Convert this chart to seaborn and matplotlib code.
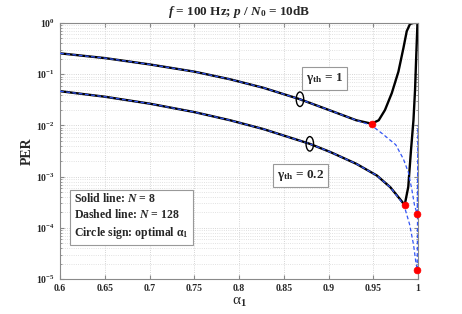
import numpy as np
import matplotlib
matplotlib.use("Agg")
import matplotlib.pyplot as plt
import seaborn as sns
from matplotlib.patches import Ellipse
from matplotlib.transforms import ScaledTranslation

# Data
# gamma_th = 1, N = 8 (solid)
alpha_g1_n8 = [0.6, 0.65, 0.7, 0.75, 0.79, 0.827, 0.868, 0.902, 0.931, 0.948,
               0.956, 0.963, 0.9706, 0.978, 0.9836, 0.9873, 0.991, 0.995, 1.0]
per_g1_n8 = [0.255, 0.206, 0.155, 0.112, 0.0794, 0.0543, 0.0324, 0.0195, 0.0126, 0.0108,
             0.0126, 0.020, 0.0427, 0.112, 0.324, 0.69, 0.955, 1.0, 1.0]

# gamma_th = 1, N = 128 (dashed)
alpha_g1_n128 = [0.6, 0.65, 0.7, 0.75, 0.79, 0.827, 0.868, 0.902, 0.931, 0.948,
                 0.96, 0.975, 0.9836, 0.9892, 0.993, 0.996, 0.999, 1.0]
per_g1_n128 = [0.255, 0.206, 0.155, 0.112, 0.0794, 0.0543, 0.0324, 0.0195, 0.0126, 0.0100,
               0.0069, 0.0042, 0.0022, 0.0012, 5.6e-4, 2.75e-4, 1.86e-4, 0.01]

# gamma_th = 0.2, N = 8 (solid)
alpha_g02_n8 = [0.6, 0.65, 0.7, 0.75, 0.79, 0.827, 0.879, 0.902, 0.931, 0.954,
                0.969, 0.98, 0.985, 0.989, 0.992, 0.9948, 0.9966, 0.998, 0.9993]
per_g02_n8 = [0.0465, 0.0363, 0.0266, 0.0182, 0.0126, 0.0085, 0.00437, 0.00302, 0.00178, 0.00105,
              6.2e-4, 3.6e-4, 2.8e-4, 6.3e-4, 3.2e-3, 0.0126, 0.05, 0.25, 1.0]

# gamma_th = 0.2, N = 128 (dashed)
alpha_g02_n128 = [0.6, 0.65, 0.7, 0.75, 0.79, 0.827, 0.879, 0.902, 0.931, 0.954,
                  0.969, 0.98, 0.985, 0.9905, 0.9948, 0.9974, 0.999, 1.0]
per_g02_n128 = [0.0465, 0.0363, 0.0266, 0.0182, 0.0126, 0.0085, 0.00437, 0.00302, 0.00178, 0.00105,
                6.2e-4, 3.5e-4, 2.5e-4, 1.17e-4, 4.8e-5, 2.2e-5, 1.5e-5, 0.01]

# optimal alpha_1 (circle signs)
alpha_opt = [0.948, 0.985, 0.999, 0.999]
per_opt = [0.0108, 2.8e-4, 1.86e-4, 1.5e-5]

xticks = [0.6, 0.65, 0.7, 0.75, 0.8, 0.85, 0.9, 0.95, 1.0]
xtick_labels = ["0.6", "0.65", "0.7", "0.75", "0.8", "0.85", "0.9", "0.95", "1"]

# Style
sns.set_style("ticks")
plt.rcParams["font.family"] = ["Liberation Serif", "DejaVu Serif"]
plt.rcParams["font.weight"] = "bold"
plt.rcParams["mathtext.fontset"] = "custom"
plt.rcParams["mathtext.rm"] = "Liberation Serif:bold"
plt.rcParams["mathtext.it"] = "Liberation Serif:italic:bold"
plt.rcParams["mathtext.bf"] = "Liberation Serif:bold"
plt.rcParams["xtick.direction"] = "in"
plt.rcParams["ytick.direction"] = "in"

fig = plt.figure(figsize=(4.62, 3.14), dpi=100)
ax = fig.add_axes([0.13, 0.111, 0.775, 0.816])

black_kw = dict(color="black", linewidth=1.7, sort=False, estimator=None, ax=ax, zorder=2)
blue_kw = dict(color="#3355f5", linewidth=0.9, sort=False, estimator=None, ax=ax,
               linestyle=(0, (3, 2)), zorder=3)

sns.lineplot(x=alpha_g1_n8, y=per_g1_n8, **black_kw)
sns.lineplot(x=alpha_g02_n8, y=per_g02_n8, **black_kw)
sns.lineplot(x=alpha_g1_n128, y=per_g1_n128, **blue_kw)
sns.lineplot(x=alpha_g02_n128, y=per_g02_n128, **blue_kw)
sns.scatterplot(x=alpha_opt, y=per_opt, color="red", s=24, edgecolor="red",
                linewidth=0.5, ax=ax, zorder=5, clip_on=False)

ax.set_yscale("log")
ax.set_xlim(0.6, 1.0)
ax.set_ylim(1e-5, 1)
ax.set_xticks(xticks)
ax.set_xticklabels(xtick_labels)
ax.tick_params(axis="both", which="both", labelsize=7, top=True, right=True,
               color="#888888", length=3)
ax.tick_params(axis="y", which="minor", length=1.5)
ax.grid(True, which="major", linestyle=":", color="#c8c8c8", linewidth=0.6)
ax.grid(True, which="minor", axis="y", linestyle=":", color="#d8d8d8", linewidth=0.6)
for s in ax.spines.values():
    s.set_color("#8a8a8a")
    s.set_linewidth(0.8)

ax.set_title("$f$ = 100 Hz; $p$ / $N_0$ = 10dB", fontsize=9.5, fontweight="bold", pad=6)
ax.set_xlabel("α$_1$", fontsize=11, fontweight="normal", labelpad=2)
ax.set_ylabel("PER", fontsize=10, fontweight="bold", labelpad=2)

# ellipses marking the curves
for cx, cy in [(0.868, 0.0324), (0.879, 0.00437)]:
    e = Ellipse((0, 0), width=0.075, height=0.145, fill=False, edgecolor="black", linewidth=1.0,
                transform=fig.dpi_scale_trans + ScaledTranslation(cx, cy, ax.transData), zorder=6)
    ax.add_patch(e)

box = dict(boxstyle="square,pad=0.3", facecolor="white", edgecolor="#999999", linewidth=0.8)
ax.text(0.895, 0.083, "γ$_{\\mathbf{th}}$ = 1", fontsize=9.5, ha="center", va="center", bbox=box, zorder=7)
ax.text(0.869, 0.00105, "γ$_{\\mathbf{th}}$ = 0.2", fontsize=9.5, ha="center", va="center", bbox=box, zorder=7)

legend_txt = "Solid line: $N$ = 8\nDashed line: $N$ = 128\nCircle sign: optimal α$_1$"
ax.text(0.04, 0.245, legend_txt, transform=ax.transAxes, fontsize=8.5, ha="left", va="center",
        linespacing=1.3, bbox=dict(boxstyle="square,pad=0.35", facecolor="white",
                                   edgecolor="#999999", linewidth=0.8), zorder=7)

fig.savefig("out.png", dpi=100)
